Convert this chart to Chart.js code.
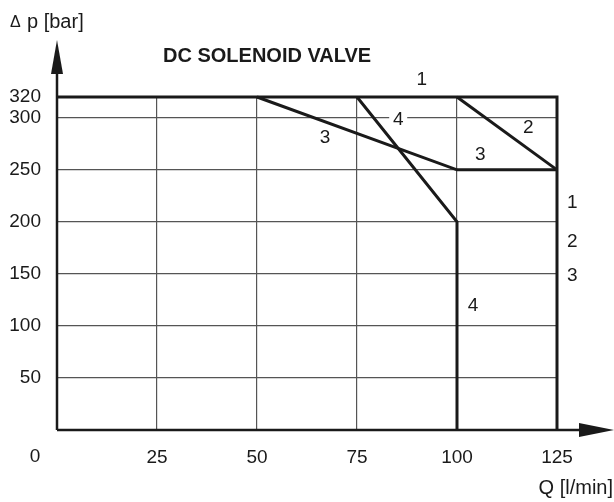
<!DOCTYPE html>
<html>
<head>
<meta charset="utf-8">
<title>DC Solenoid Valve</title>
<script src="https://cdn.jsdelivr.net/npm/chart.js@4.4.1/dist/chart.umd.min.js"></script>
<style>
  html, body { margin: 0; padding: 0; background: #fff; }
  #wrap { width: 614px; height: 502px; }
</style>
</head>
<body>
<div id="wrap"><canvas id="valveChart" width="614" height="502"></canvas></div>
<script>
// Curves: flow Q [l/min] vs pressure drop Δp [bar]
const curve1Q = [0, 125, 125];
const curve1P = [320, 320, 0];
const curve2Q = [100, 125];
const curve2P = [320, 250];
const curve3Q = [50, 100, 125];
const curve3P = [320, 250, 250];
const curve4Q = [75, 100, 100];
const curve4P = [320, 200, 0];

const xTicks = [0, 25, 50, 75, 100, 125];
const yTicks = [0, 50, 100, 150, 200, 250, 300, 320];

// curve numbers, placed in data space
const tagText = ['1', '2', '3', '3', '4', '1', '2', '3', '4'];
const tagQ = [91.2, 117.8, 67, 105.8, 85.3, 128.8, 128.8, 128.8, 104];
const tagP = [336.6, 290.2, 280.6, 264.3, 297.9, 218, 181, 148, 119.2];

const ink = '#1a1a1a';
const fontFam = "'Liberation Sans', Arial, Helvetica, sans-serif";
Chart.defaults.font.family = fontFam;

const toPts = (qs, ps) => qs.map((q, i) => ({ x: q, y: ps[i] }));
const curveStyle = {
  borderColor: ink, borderWidth: 3, pointRadius: 0, showLine: true,
  fill: false, tension: 0, clip: false, borderJoinStyle: 'miter'
};

// axes with arrows, titles and curve numbers
const decorPlugin = {
  id: 'decor',
  beforeDatasetsDraw(chart) {
    const { ctx, scales: { x, y } } = chart;
    // white box behind the "4" that sits on the 300 grid line
    ctx.save();
    ctx.fillStyle = '#fff';
    const px = x.getPixelForValue(tagQ[4]), py = y.getPixelForValue(tagP[4]);
    ctx.fillRect(px - 9, py - 6, 18, 12);
    ctx.restore();
  },
  afterDatasetsDraw(chart) {
    const { ctx, chartArea: a, scales: { x, y } } = chart;
    ctx.save();
    ctx.strokeStyle = ink; ctx.fillStyle = ink;
    ctx.lineWidth = 2.5;
    ctx.beginPath();
    ctx.moveTo(a.left, a.bottom); ctx.lineTo(a.left, a.top - 24);
    ctx.moveTo(a.left, a.bottom); ctx.lineTo(a.right + 22, a.bottom);
    ctx.stroke();
    // arrow heads
    ctx.beginPath();
    ctx.moveTo(a.left, a.top - 57);
    ctx.lineTo(a.left - 6, a.top - 23);
    ctx.lineTo(a.left + 6, a.top - 23);
    ctx.closePath(); ctx.fill();
    ctx.beginPath();
    ctx.moveTo(a.right + 57, a.bottom);
    ctx.lineTo(a.right + 22, a.bottom - 7);
    ctx.lineTo(a.right + 22, a.bottom + 7);
    ctx.closePath(); ctx.fill();

    ctx.textBaseline = 'alphabetic';
    ctx.font = 'bold 20px ' + fontFam;
    ctx.textAlign = 'left';
    ctx.fillText('DC SOLENOID VALVE', 163, 62);
    ctx.font = '16px ' + fontFam;
    ctx.fillText('\u0394', 10, 27);
    ctx.font = '20px ' + fontFam;
    ctx.fillText('p [bar]', 27, 28);
    ctx.textAlign = 'right';
    ctx.fillText('Q [l/min]', 613, 494);
    ctx.font = '19px ' + fontFam;
    ctx.textAlign = 'center';
    ctx.textBaseline = 'middle';
    ctx.fillText('0', a.left - 22, a.bottom + 27);

    tagText.forEach((t, i) => {
      ctx.fillText(t, x.getPixelForValue(tagQ[i]), y.getPixelForValue(tagP[i]));
    });
    ctx.restore();
  }
};

const tickFont = { size: 19 };

new Chart(document.getElementById('valveChart'), {
  type: 'scatter',
  data: {
    datasets: [
      { label: '1', data: toPts(curve1Q, curve1P), ...curveStyle },
      { label: '2', data: toPts(curve2Q, curve2P), ...curveStyle },
      { label: '3', data: toPts(curve3Q, curve3P), ...curveStyle },
      { label: '4', data: toPts(curve4Q, curve4P), ...curveStyle }
    ]
  },
  options: {
    responsive: false,
    animation: false,
    layout: { padding: { top: 97, right: 57, left: 0, bottom: 0 } },
    plugins: { legend: { display: false }, tooltip: { enabled: false } },
    scales: {
      x: {
        type: 'linear', min: 0, max: 125,
        afterBuildTicks: s => { s.ticks = xTicks.map(v => ({ value: v })); },
        afterFit: s => { s.height = 72; },
        ticks: { callback: v => v === 0 ? '' : v, font: tickFont, color: ink, padding: 16, maxRotation: 0, autoSkip: false },
        grid: { color: '#555', lineWidth: 1.2, drawTicks: false },
        border: { display: false }
      },
      y: {
        type: 'linear', min: 0, max: 320,
        afterBuildTicks: s => { s.ticks = yTicks.map(v => ({ value: v })); },
        afterFit: s => { s.width = 57; },
        ticks: { callback: v => v === 0 ? '' : v, font: tickFont, color: ink, padding: 16, autoSkip: false },
        grid: { color: '#555', lineWidth: 1.2, drawTicks: false },
        border: { display: false }
      }
    }
  },
  plugins: [decorPlugin]
});
</script>
</body>
</html>
